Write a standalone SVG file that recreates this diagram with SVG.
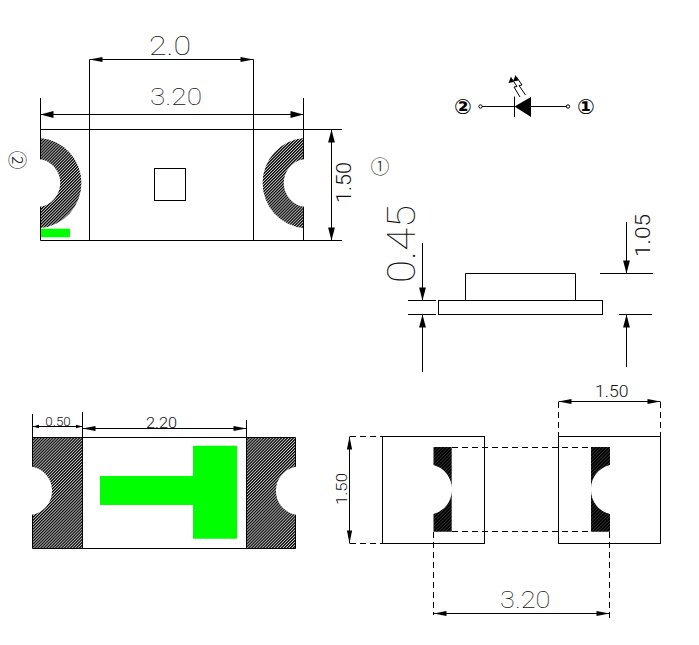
<svg xmlns="http://www.w3.org/2000/svg" width="699" height="645" viewBox="0 0 699 645">
<style>
.l{fill:none;stroke:#000;stroke-width:1}
.d{fill:none;stroke:#000;stroke-width:1;stroke-dasharray:6 4}
.a{marker-start:url(#as);marker-end:url(#ae)}
.t{font-family:Roboto,"Liberation Sans",sans-serif;font-weight:100;fill:#111}
.m{font-weight:300}
.c{font-family:"Noto Sans CJK JP",sans-serif;font-weight:300;fill:#222}
.s{font-family:"DejaVu Sans",sans-serif;font-weight:bold;fill:#000}
.g{fill:#00ff00}
.h{fill:url(#hatch)}
.w{marker-start:url(#awS);marker-end:url(#aw)}
.e{marker-end:url(#aw)}
</style>
<defs>
<pattern id="hatch" width="2.1" height="2.1" patternUnits="userSpaceOnUse" patternTransform="rotate(-45)"><rect width="2.1" height="2.1" fill="#ccc"/><rect width="2.1" height="1.2" fill="#000"/></pattern>
<pattern id="hatch2" width="2.4" height="2.4" patternUnits="userSpaceOnUse" patternTransform="rotate(-45)"><rect width="2.4" height="2.4" fill="#444"/><rect width="2.4" height="1.8" fill="#000"/></pattern>
<marker id="ae" markerUnits="userSpaceOnUse" markerWidth="16" markerHeight="10" refX="14" refY="5" orient="auto"><path d="M1 2.4L14 5L1 7.6z"/></marker>
<marker id="as" markerUnits="userSpaceOnUse" markerWidth="16" markerHeight="10" refX="2" refY="5" orient="auto"><path d="M15 2.4L2 5L15 7.6z"/></marker>
<marker id="aw" markerUnits="userSpaceOnUse" markerWidth="16" markerHeight="12" refX="14" refY="6" orient="auto"><path d="M1 2.6L14 6L1 9.4z"/></marker>
<marker id="awS" markerUnits="userSpaceOnUse" markerWidth="16" markerHeight="12" refX="2" refY="6" orient="auto"><path d="M15 2.6L2 6L15 9.4z"/></marker>
</defs>

<g id="top-view">
<path class="h" d="M40.5 138A45.2 45.2 0 0 1 40.5 228V206.7A24.1 24.1 0 0 0 40.5 159.3Z"/>
<path class="h" d="M303.5 138A45.2 45.2 0 0 0 303.5 228V206.7A24.1 24.1 0 0 1 303.5 159.3Z"/>
<rect class="g" x="40.5" y="228.7" width="29.5" height="8.6"/>
<path class="l" d="M40.5 129.5H342M40.5 240.5H342M40.5 98V159.3M40.5 206.7V240.5M303.5 98V159.3M303.5 206.7V240.5M89.5 59.5V240.5M253.5 59.5V240.5"/>
<rect class="l" x="154.5" y="168.5" width="31" height="32"/>
</g>
<g id="top-dims">
<path class="l a" d="M89.5 59.5H253.5"/>
<path class="l w" d="M40.5 114.5H303.5"/>
<path class="l w" d="M331.5 129.5V240.5"/>
<text class="t" x="149" y="54.5" font-size="26" textLength="42" lengthAdjust="spacingAndGlyphs">2.0</text>
<text class="t" x="150" y="105" font-size="24" textLength="52" lengthAdjust="spacingAndGlyphs">3.20</text>
<text class="t m" transform="translate(351 203) rotate(-90)" font-size="21" textLength="41" lengthAdjust="spacingAndGlyphs">1.50</text>
<text class="c" transform="translate(16.5 160) rotate(90)" font-size="19" text-anchor="middle" dy=".35em">②</text>
<text class="c" x="380" y="173.500" font-size="19" text-anchor="middle">①</text>
</g>

<g id="led-symbol">
<path class="l" d="M482 106.500H514M531 106.500H566.500"/>
<circle class="l" cx="480.500" cy="106.500" r="1.700"/>
<circle class="l" cx="568" cy="106.500" r="1.700"/>
<path class="l" d="M514.500 96.500V117"/>
<path d="M514.500 106.500L531 97V117Z"/>
<path class="l" d="M520 97L514 87L517 86.500L512 79M525.500 95L519 85.500L522 85L516.500 77"/>
<path d="M511 76.500L513.500 82L508.500 83ZM515.500 75L518.500 80.500L513 81.500Z"/>
<text class="s" x="463" y="114" font-size="21" text-anchor="middle">②</text>
<text class="s" x="586" y="114" font-size="21" text-anchor="middle">①</text>
</g>

<g id="side-view">
<rect class="l" x="438.500" y="300.500" width="164" height="14"/>
<path class="l" d="M465.500 300.500V273.500H575.500V300.500"/>
<path class="l" d="M408 300.500H436M408 314.500H436M600 273.500H653M619 314.500H652"/>
<path class="l e" d="M422.500 243V300.500"/>
<path class="l e" d="M422.500 372V314.500"/>
<path class="l e" d="M626.500 222V273.500"/>
<path class="l e" d="M626.500 367V314.500"/>
<text class="t" transform="translate(414.500 283) rotate(-90)" font-size="38" textLength="78" lengthAdjust="spacingAndGlyphs">0.45</text>
<text class="t m" transform="translate(650 257) rotate(-90)" font-size="21" textLength="43" lengthAdjust="spacingAndGlyphs">1.05</text>
</g>

<g id="bottom-view">
<path class="h" d="M32.500 437.500H82.500V548.500H32.500V514.700A24.500 24.500 0 0 0 32.500 466.700Z"/>
<path class="h" d="M295.500 437.500H246.500V548.500H295.500V514.700A24.500 24.500 0 0 1 295.500 466.700Z"/>
<path class="g" d="M100 476H193V445.700H237V538.700H193V505H100Z"/>
<path class="l" d="M32.500 437.500H295.500M32.500 548.500H295.500M32.500 414V466.700M82.500 412V548.500M246.500 420V548.500M295.500 437.500V466.700M32.500 514.700V548.500M295.500 514.700V548.500"/>
<path d="M32.500 426.500L39 424.800V428.200ZM82.500 426.500L76 424.800V428.200Z"/>
<path class="l" d="M32.500 426.500H82.500"/>
<path class="l a" d="M82.500 428.500H246.500"/>
<text class="t m" x="45.300" y="425.500" font-size="12" textLength="25.500" lengthAdjust="spacingAndGlyphs">0.50</text>
<text class="t m" x="146" y="428" font-size="15" textLength="31" lengthAdjust="spacingAndGlyphs">2.20</text>
</g>

<g id="pad-view">
<rect class="l" x="382.500" y="436.500" width="102" height="107"/>
<rect class="l" x="558.500" y="436.500" width="102" height="107"/>
<path fill="url(#hatch2)" d="M433.500 447H451.700V531.700H433.500V514A24.500 24.500 0 0 0 451.700 489.500A24.500 24.500 0 0 0 433.500 465Z"/>
<path fill="url(#hatch2)" d="M610 447H591V531.700H610V514A24.500 24.500 0 0 1 591 489.500A24.500 24.500 0 0 1 610 465Z"/>
<path class="d" d="M452 447.500H591M452 531.500H591M433.500 532V615M609.500 532V618M558.500 402V436M660.500 402V436M350 436.500H382M350 543.500H382"/>
<path class="l a" d="M433.500 613.500H609.500"/>
<path class="l a" d="M558.500 401.500H660.500"/>
<path class="l a" d="M349.500 436.500V543.500"/>
<text class="t" x="500" y="608" font-size="24" textLength="50.500" lengthAdjust="spacingAndGlyphs">3.20</text>
<text class="t m" x="595" y="397" font-size="16" textLength="33.500" lengthAdjust="spacingAndGlyphs">1.50</text>
<text class="t m" transform="translate(346.700 505) rotate(-90)" font-size="15.500" textLength="32" lengthAdjust="spacingAndGlyphs">1.50</text>
</g>
</svg>
